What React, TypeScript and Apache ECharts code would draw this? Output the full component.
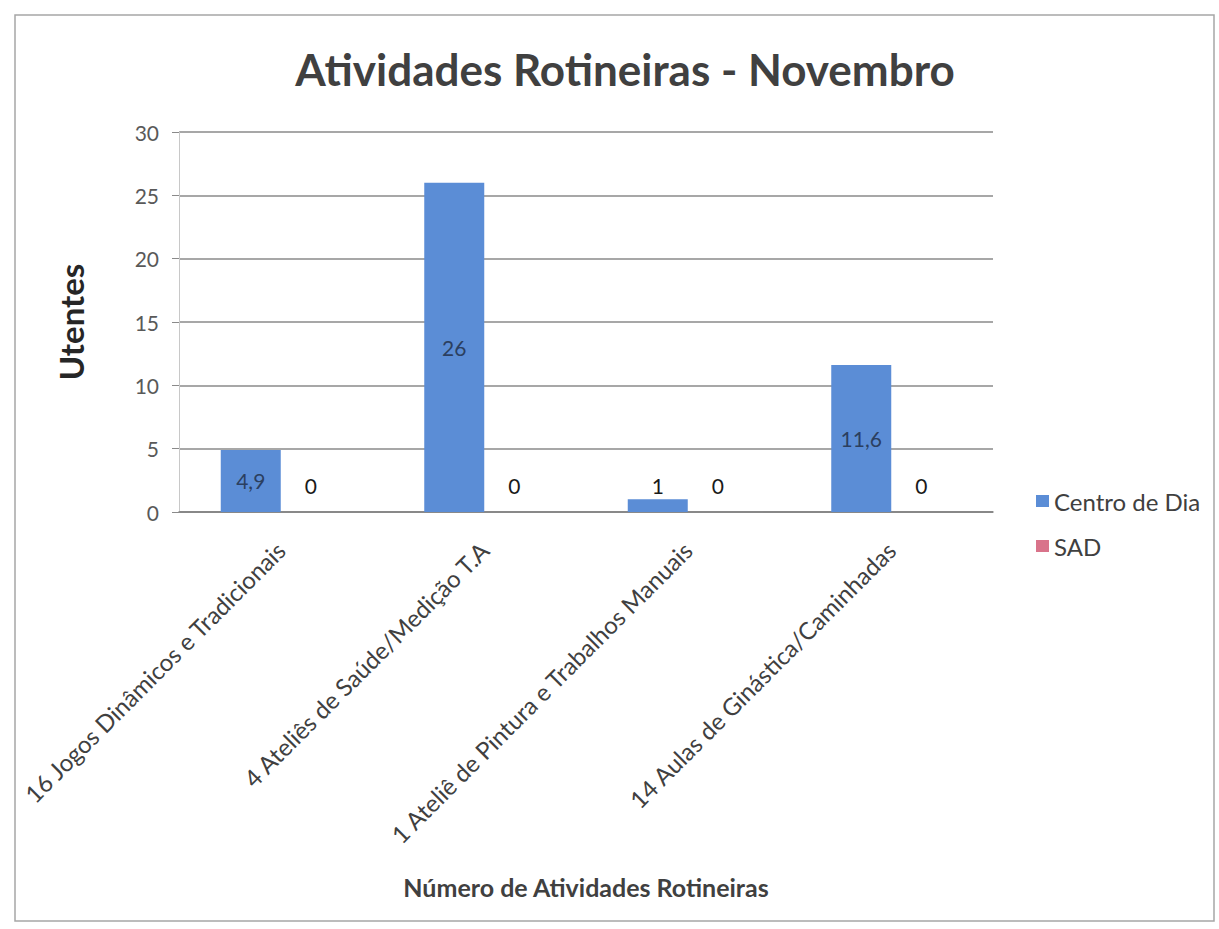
import React, { useEffect, useRef } from "react";
import * as echarts from "echarts";

const categories = [
  "16 Jogos Dinâmicos e Tradicionais",
  "4 Ateliês de Saúde/Medição T.A",
  "1 Ateliê de Pintura e Trabalhos Manuais",
  "14 Aulas de Ginástica/Caminhadas",
];
const centroDeDia = [4.9, 26, 1, 11.6];
const sad = [0, 0, 0, 0];
const yTicks = { min: 0, max: 30, interval: 5 };

const FONT = "Lato, 'Noto Sans', sans-serif";
const fmt = (v: number) => String(v).replace(".", ",");

export default function App() {
  const ref = useRef<HTMLDivElement>(null);
  useEffect(() => {
    if (!ref.current) return;
    const chart = echarts.init(ref.current, undefined, { renderer: "svg" });
    chart.setOption({
      animation: false,
      backgroundColor: "#ffffff",
      textStyle: { fontFamily: FONT },
      title: {
        text: "Atividades Rotineiras - Novembro",
        left: 620,
        textAlign: "center",
        top: 42,
        textStyle: { fontSize: 44, fontWeight: "bold", color: "#404040", fontFamily: FONT },
      },
      graphic: [
        {
          type: "rect",
          shape: { x: 15, y: 15, width: 1199, height: 906 },
          style: { fill: "none", stroke: "#a6a6a6", lineWidth: 1.5 },
          silent: true,
        },
      ],
      legend: {
        orient: "vertical",
        left: 1031,
        top: 484,
        itemWidth: 13,
        itemHeight: 12,
        itemGap: 21,
        icon: "rect",
        textStyle: { fontSize: 24, color: "#404040", fontFamily: FONT },
        data: ["Centro de Dia", "SAD"],
      },
      grid: { left: 179, right: 226, top: 132, bottom: 417, containLabel: false },
      xAxis: {
        type: "category",
        data: categories,
        name: "Número de Atividades Rotineiras",
        nameLocation: "middle",
        nameGap: 362,
        nameTextStyle: { fontSize: 25, fontWeight: "bold", color: "#404040", fontFamily: FONT },
        axisLine: { lineStyle: { color: "#7f7f7f", width: 1.5 } },
        axisTick: { show: false },
        axisLabel: {
          rotate: 45,
          interval: 0,
          fontSize: 24,
          color: "#404040",
          margin: 34,
          fontFamily: FONT,
        },
      },
      yAxis: {
        type: "value",
        min: yTicks.min,
        max: yTicks.max,
        interval: yTicks.interval,
        name: "Utentes",
        nameLocation: "middle",
        nameRotate: 90,
        nameGap: 92,
        nameTextStyle: { fontSize: 33, fontWeight: "bold", color: "#262626", fontFamily: FONT },
        axisLine: { show: true, lineStyle: { color: "#c8c8c8", width: 1 } },
        axisTick: { show: true, length: 7, lineStyle: { color: "#8a8a8a" } },
        axisLabel: { fontSize: 21, color: "#595959", margin: 20, fontFamily: FONT },
        splitLine: { lineStyle: { color: "#8a8a8a", width: 1.5 } },
      },
      series: [
        {
          name: "Centro de Dia",
          type: "bar",
          barWidth: 60,
          barGap: "0%",
          itemStyle: { color: "#5b8dd6" },
          data: centroDeDia.map((v) => ({
            value: v,
            label: v < 2 ? { position: "top", distance: 3, color: "#1a1a1a" } : undefined,
          })),
          label: {
            show: true,
            position: "inside",
            fontSize: 21,
            color: "#2b3f60",
            fontFamily: FONT,
            formatter: (p: any) => fmt(p.value),
          },
        },
        {
          name: "SAD",
          type: "bar",
          barWidth: 60,
          barGap: "0%",
          itemStyle: { color: "#d9738a" },
          data: sad,
          label: {
            show: true,
            position: "top",
            distance: 16,
            fontSize: 21,
            color: "#1a1a1a",
            fontFamily: FONT,
            formatter: (p: any) => fmt(p.value),
          },
        },
      ],
    });
    return () => chart.dispose();
  }, []);
  return (
    <div
      ref={ref}
      style={{ position: "absolute", left: 0, top: 0, width: 1219, height: 929 }}
    />
  );
}
